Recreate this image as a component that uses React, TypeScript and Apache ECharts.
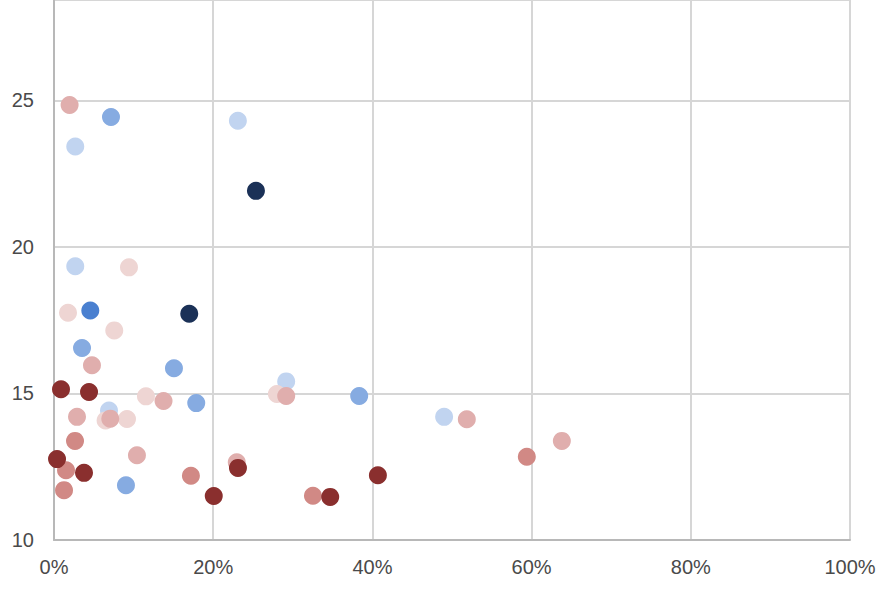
import React, { useEffect, useRef } from "react";
import * as echarts from "echarts";

// x values are percentages (0-100), y values are raw numbers
const lightBlue: number[][] = [
  [2.67, 23.42], [23.1, 24.3], [2.67, 19.34], [29.17, 15.41], [49.01, 14.2], [6.91, 14.42],
];
const mediumBlue: number[][] = [
  [7.16, 24.43], [3.52, 16.55], [15.07, 15.86], [17.87, 14.67], [38.34, 14.91], [9.04, 11.87],
];
const brightBlue: number[][] = [[4.56, 17.83]];
const navy: number[][] = [[25.37, 21.91], [16.99, 17.72]];
const lightPink: number[][] = [
  [9.42, 19.3], [1.76, 17.75], [7.57, 17.15], [11.55, 14.9], [28.0, 14.98], [6.48, 14.08], [9.17, 14.13],
];
const pink: number[][] = [
  [1.96, 24.84], [4.77, 15.96], [13.76, 14.74], [29.17, 14.91], [51.86, 14.12], [63.8, 13.38],
  [7.07, 14.14], [2.89, 14.2], [10.42, 12.89], [22.96, 12.65],
];
const rose: number[][] = [
  [59.4, 12.84], [2.64, 13.38], [1.51, 12.38], [1.26, 11.7], [17.2, 12.19], [32.53, 11.51],
];
const darkRed: number[][] = [
  [0.88, 15.14], [4.4, 15.05], [0.38, 12.76], [3.77, 12.29], [20.07, 11.5], [23.11, 12.46],
  [34.7, 11.47], [40.69, 12.21],
];

const seriesDefs: { name: string; data: number[][]; color: string }[] = [
  { name: "lightBlue", data: lightBlue, color: "#c1d4f0" },
  { name: "mediumBlue", data: mediumBlue, color: "#86abe1" },
  { name: "brightBlue", data: brightBlue, color: "#4a80d0" },
  { name: "navy", data: navy, color: "#1b3157" },
  { name: "lightPink", data: lightPink, color: "#eed5d3" },
  { name: "pink", data: pink, color: "#e0aead" },
  { name: "rose", data: rose, color: "#d18985" },
  { name: "darkRed", data: darkRed, color: "#8a2f2e" },
];

const FONT = "'Liberation Sans', Arial, Helvetica, sans-serif";

export default function App() {
  const ref = useRef<HTMLDivElement>(null);
  useEffect(() => {
    document.body.style.margin = "0";
    if (!ref.current) return;
    const chart = echarts.init(ref.current, undefined, { renderer: "svg" });
    chart.setOption({
      animation: false,
      backgroundColor: "#ffffff",
      grid: { left: 54, right: 40, top: -3, bottom: 55, containLabel: false },
      xAxis: {
        type: "value",
        min: 0,
        max: 100,
        interval: 20,
        axisLine: { show: true, lineStyle: { color: "#b8b8b8", width: 2 } },
        axisTick: { show: false },
        splitLine: { show: true, lineStyle: { color: "#d6d6d6", width: 2 } },
        axisLabel: {
          formatter: "{value}%",
          color: "#4a4a4a",
          fontSize: 20,
          fontFamily: FONT,
          margin: 17,
        },
      },
      yAxis: {
        type: "value",
        min: 10,
        max: 28.42,
        interval: 5,
        axisLine: { show: true, lineStyle: { color: "#b8b8b8", width: 2 } },
        axisTick: { show: false },
        splitLine: { show: true, lineStyle: { color: "#d6d6d6", width: 2 } },
        axisLabel: {
          showMaxLabel: false,
          color: "#4a4a4a",
          fontSize: 20,
          fontFamily: FONT,
          margin: 20,
        },
      },
      series: seriesDefs.map((s) => ({
        name: s.name,
        type: "scatter",
        data: s.data,
        symbol: "circle",
        symbolSize: 18,
        itemStyle: { color: s.color, opacity: 1 },
        emphasis: { disabled: true },
      })),
    });
    return () => chart.dispose();
  }, []);
  return <div ref={ref} style={{ width: 890, height: 595 }} />;
}
